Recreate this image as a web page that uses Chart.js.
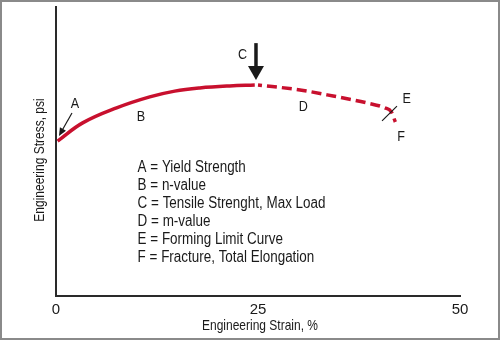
<!DOCTYPE html>
<html>
<head>
<meta charset="utf-8">
<script src="https://cdn.jsdelivr.net/npm/chart.js@4"></script>
<style>
  body { margin: 0; background: #fff; }
  #wrap { width: 500px; height: 340px; }
</style>
</head>
<body>
<div id="wrap"><canvas id="chart" width="500" height="340"></canvas></div>
<script>
// strain (%) and stress (arbitrary units, no ticks on the y axis)
const strainSolid = [0.2, 3.3, 7.5, 11.6, 14.7, 17.8, 21.5, 24.6];
const stressSolid = [53.6, 59.9, 65.1, 68.9, 70.9, 72.0, 72.7, 73.0];
const strainDashed = [25.0, 30.2, 34.3, 38.5, 40.7, 41.5, 42.0];
const stressDashed = [73.0, 71.3, 69.2, 66.8, 65.1, 63.7, 60.2];
const xTicks = [0, 25, 50];
const legendLines = [
    'A = Yield Strength',
    'B = n-value',
    'C = Tensile Strenght, Max Load',
    'D = m-value',
    'E = Forming Limit Curve',
    'F = Fracture, Total Elongation'
];

const FONT = "'Liberation Sans', Arial, sans-serif";
const RED = '#c8102e';
const INK = '#1a1a1a';

function toPoints(xs, ys) {
    return xs.map((v, i) => ({ x: v, y: ys[i] }));
}

// the reference uses a condensed face, so squeeze the text horizontally
function narrowText(ctx, text, x, y, squeeze) {
    ctx.save();
    ctx.translate(x, y);
    ctx.scale(squeeze, 1);
    ctx.fillText(text, 0, 0);
    ctx.restore();
}

// labels, arrows and the explanation block, placed in data units
const annotate = {
    id: 'annotate',
    afterDatasetsDraw(chart) {
        const { ctx, scales: { x, y } } = chart;
        const px = v => x.getPixelForValue(v);
        const py = v => y.getPixelForValue(v);

        ctx.save();
        ctx.fillStyle = INK;
        ctx.strokeStyle = INK;
        ctx.textAlign = 'center';
        ctx.textBaseline = 'middle';
        ctx.font = '15px ' + FONT;
        narrowText(ctx, 'A', px(2.35), py(66.4), 0.84);
        narrowText(ctx, 'B', px(10.5), py(61.9), 0.84);
        narrowText(ctx, 'C', px(23.1), py(83.4), 0.84);
        narrowText(ctx, 'D', px(30.6), py(65.4), 0.84);
        narrowText(ctx, 'E', px(43.4), py(68.2), 0.84);
        narrowText(ctx, 'F', px(42.7), py(55.0), 0.84);

        // arrow to A
        const ax0 = px(1.98), ay0 = py(63.3), ax1 = px(0.37), ay1 = py(55.4);
        const ang = Math.atan2(ay1 - ay0, ax1 - ax0);
        ctx.lineWidth = 1.2;
        ctx.beginPath();
        ctx.moveTo(ax0, ay0);
        ctx.lineTo(ax1 - 5 * Math.cos(ang), ay1 - 5 * Math.sin(ang));
        ctx.stroke();
        ctx.beginPath();
        ctx.moveTo(ax1, ay1);
        ctx.lineTo(ax1 - 8 * Math.cos(ang) + 3.5 * Math.sin(ang), ay1 - 8 * Math.sin(ang) - 3.5 * Math.cos(ang));
        ctx.lineTo(ax1 - 8 * Math.cos(ang) - 3.5 * Math.sin(ang), ay1 - 8 * Math.sin(ang) + 3.5 * Math.cos(ang));
        ctx.closePath();
        ctx.fill();

        // big arrow at C
        const cx = px(24.75);
        ctx.lineWidth = 3.5;
        ctx.beginPath();
        ctx.moveTo(cx, py(87.5));
        ctx.lineTo(cx, py(79.0));
        ctx.stroke();
        ctx.beginPath();
        ctx.moveTo(cx - 8, py(79.6));
        ctx.lineTo(cx + 8, py(79.6));
        ctx.lineTo(cx, py(74.7));
        ctx.closePath();
        ctx.fill();

        // forming limit tick at E
        ctx.lineWidth = 1.2;
        ctx.beginPath();
        ctx.moveTo(px(40.35), py(60.6));
        ctx.lineTo(px(42.2), py(65.7));
        ctx.stroke();

        // explanation block
        ctx.textAlign = 'left';
        ctx.font = '16px ' + FONT;
        legendLines.forEach((t, i) => {
            narrowText(ctx, t, px(10.1), py(44.3 - i * 6.23), 0.84);
        });

        // axis titles
        ctx.font = '15px ' + FONT;
        ctx.textAlign = 'center';
        narrowText(ctx, 'Engineering Strain, %', 260, 326, 0.8);
        ctx.translate(40, 160);
        ctx.rotate(-Math.PI / 2);
        narrowText(ctx, 'Engineering Stress, psi', 0, 0, 0.8);
        ctx.restore();

        // outer frame
        ctx.save();
        ctx.strokeStyle = '#8a8a8a';
        ctx.lineWidth = 2;
        ctx.strokeRect(1, 1, 498, 338);
        ctx.restore();
    }
};

new Chart(document.getElementById('chart'), {
    type: 'line',
    data: {
        datasets: [
            {
                data: toPoints(strainSolid, stressSolid),
                borderColor: RED,
                borderWidth: 3.5,
                tension: 0.4,
                pointRadius: 0,
                clip: false
            },
            {
                data: toPoints(strainDashed, stressDashed),
                borderColor: RED,
                borderWidth: 3.5,
                borderDash: [10, 5],
                borderDashOffset: 6,
                cubicInterpolationMode: 'monotone',
                pointRadius: 0,
                clip: false
            }
        ]
    },
    options: {
        responsive: false,
        animation: false,
        layout: { padding: { top: 7, right: 40, bottom: 0, left: 0 } },
        plugins: {
            legend: { display: false },
            tooltip: { enabled: false }
        },
        scales: {
            x: {
                type: 'linear',
                min: 0,
                max: 50,
                afterBuildTicks: s => { s.ticks = xTicks.map(v => ({ value: v })); },
                afterFit: s => { s.height = 44; },
                grid: { display: false, drawTicks: false },
                border: { display: true, color: '#2a2a2a', width: 2 },
                ticks: { color: INK, padding: 5, maxRotation: 0, font: { family: FONT, size: 15 } }
            },
            y: {
                min: 0,
                max: 100,
                afterFit: s => { s.width = 56; },
                grid: { display: false, drawTicks: false },
                border: { display: true, color: '#2a2a2a', width: 2 },
                ticks: { display: false }
            }
        }
    },
    plugins: [annotate]
});
</script>
</body>
</html>
